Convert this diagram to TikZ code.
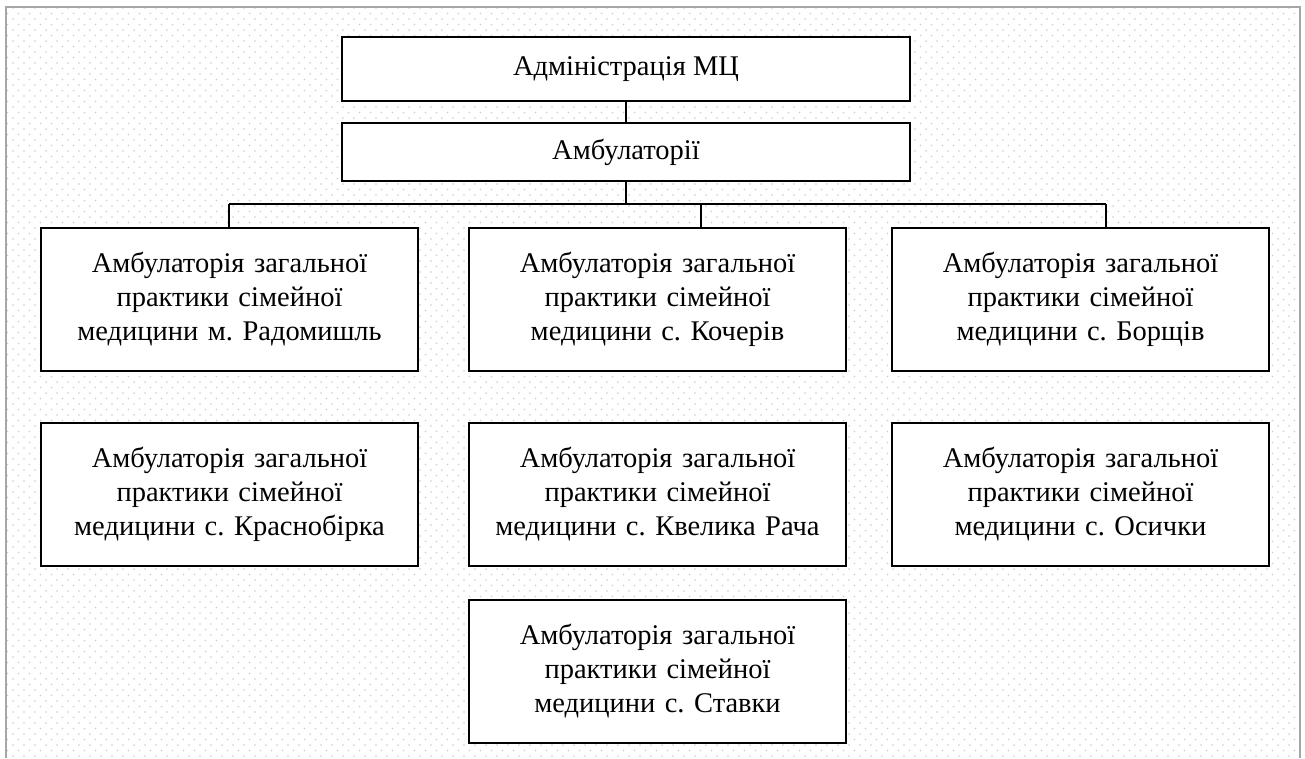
\documentclass[tikz,border=0pt]{standalone}
\usepackage{fontspec}
\setmainfont{Liberation Serif}
\usetikzlibrary{patterns}
\pgfdeclarepatternformonly{mydots}{\pgfqpoint{-1pt}{-1pt}}{\pgfqpoint{12pt}{12pt}}{\pgfqpoint{11pt}{11pt}}{%
  \pgfpathcircle{\pgfqpoint{2pt}{2pt}}{0.9pt}%
  \pgfpathcircle{\pgfqpoint{7.5pt}{7.5pt}}{0.9pt}%
  \pgfusepath{fill}}
\frenchspacing
\begin{document}
\begin{tikzpicture}[x=1pt,y=-1pt,
  box/.style={draw=black,line width=2pt,fill=white,align=center,inner sep=0pt,
    font=\fontsize{28.5}{34}\selectfont},
  rowbox/.style={box,minimum width=377,minimum height=143,text width=370},
  conn/.style={draw=black,line width=2pt}]
\useasboundingbox (0,0) rectangle (1305,758);
\fill[white] (0,0) rectangle (1305,758);
\fill[pattern=mydots,pattern color=gray!40] (6,7) rectangle (1300,758);
\draw[gray!70,line width=2pt] (6,758) -- (6,7) -- (1300,7) -- (1300,758);
\node[box,minimum width=568,minimum height=64] (adm) at (626,69) {Адміністрація МЦ};
\node[box,minimum width=568,minimum height=58] (amb) at (626,152) {Амбулаторії};
\node[rowbox] (r1a) at (229.5,299.5) {Амбулаторія загальної\\практики сімейної\\медицини м. Радомишль};
\node[rowbox] (r1b) at (657.5,299.5) {Амбулаторія загальної\\практики сімейної\\медицини с. Кочерів};
\node[rowbox] (r1c) at (1080.5,299.5) {Амбулаторія загальної\\практики сімейної\\медицини с. Борщів};
\node[rowbox] (r2a) at (229.5,494.5) {Амбулаторія загальної\\практики сімейної\\медицини с. Краснобірка};
\node[rowbox] (r2b) at (657.5,494.5) {Амбулаторія загальної\\практики сімейної\\медицини с. Квелика Рача};
\node[rowbox] (r2c) at (1080.5,494.5) {Амбулаторія загальної\\практики сімейної\\медицини с. Осички};
\node[rowbox] (r3b) at (657.5,671.5) {Амбулаторія загальної\\практики сімейної\\медицини с. Ставки};
\coordinate (b0) at (626,204);
\coordinate (b1) at (229,204);
\coordinate (b2) at (701,204);
\coordinate (b3) at (1106,204);
\draw[conn] (adm.south) -- (amb.north);
\draw[conn] (amb.south) -- (b0);
\draw[conn] (b1) -- (b3);
\draw[conn] (b1) -- (b1 |- r1a.north);
\draw[conn] (b2) -- (b2 |- r1b.north);
\draw[conn] (b3) -- (b3 |- r1c.north);
\end{tikzpicture}
\end{document}
